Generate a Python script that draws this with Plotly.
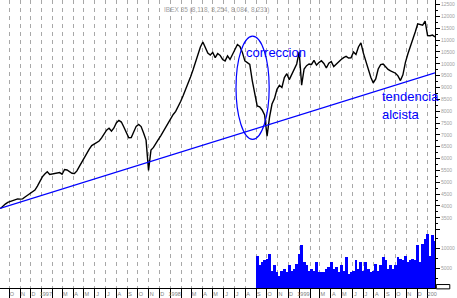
import pandas as pd
import plotly.graph_objects as go

# ---- data ----
title_text = "IBEX 35 (8,118, 8,254, 8,084, 8,231)"

price_start = "1996-09-06"   # weekly closes
price = [
    3890, 4000, 4080, 4150, 4190, 4210, 4250, 4300, 4290, 4300,
    4380, 4460, 4530, 4610, 4670, 4840, 5070, 5230, 5350, 5440,
    5330, 5350, 5390, 5420, 5410, 5340, 5540, 5520, 5430, 5380,
    5370, 5480, 5670, 5860, 6070, 6240, 6400, 6550, 6610, 6660,
    6740, 6870, 7040, 7200, 7280, 7160, 7290, 7510, 7610, 7540,
    7330, 7130, 6880, 6890, 7150, 7360, 7440, 7350, 7080, 6780,
    5500, 6360, 6470, 6660, 6810, 6970, 7160, 7320, 7530, 7670,
    7860, 7990, 8180, 8410, 8650, 8890, 9160, 9440, 9740, 10070,
    10420, 10710, 10920, 10710, 10450, 10370, 10480, 10260, 10430, 10350,
    10180, 10120, 10330, 10180, 10390, 10600, 10810, 10730, 10480, 10120,
    10030, 9970, 9290, 8720, 8220, 8180, 8050, 7840, 6950, 7750,
    8300, 8530, 8920, 9090, 9000, 9420, 9580, 9330, 9540, 9780,
    9990, 10500, 9100, 9780, 9920, 9990, 9970, 10140, 9940, 10050,
    10130, 10010, 9820, 10020, 10090, 9880, 9990, 10090, 10180, 10260,
    10310, 10240, 10250, 10500, 10390, 10710, 10880, 10450, 10100, 9740,
    9430, 9190, 9360, 9780, 9960, 9990, 9870, 9760, 9700, 9650,
    9600, 9490, 9290, 9530, 10050, 10410, 10710, 10950, 11340, 11680,
    11670, 11630, 11800, 11190, 11180, 11210, 11130,
]

vol_start = "1998-09-04"     # weekly volume
volume = [
    8000, 5700, 6500, 7000, 7400, 8600, 4400, 5700, 4000, 3100,
    4400, 4800, 4000, 5700, 4400, 4800, 6100, 8650, 10800, 6500,
    5700, 4400, 4800, 4400, 6500, 4000, 4000, 4000, 4800, 5300,
    6500, 4800, 5300, 4000, 5700, 4400, 7800, 3600, 4000, 4400,
    7000, 4800, 6500, 4400, 6500, 4800, 4000, 4400, 6100, 4400,
    5700, 7800, 7000, 4800, 5700, 4800, 5700, 7800, 7400, 7000,
    8200, 6500, 7000, 7400, 7000, 10800, 6500, 11200, 12500, 13700,
    8200, 13300, 12000,
]

trend_dates = ["1996-09-05", "2000-01-21"]
trend_values = [3900, 9620]

ellipse_dates = ["1998-07-06", "1998-10-08"]
ellipse_values = [6810, 11170]

month_labels = ["S", "O", "N", "D",
                "1997", "", "M", "A", "M", "J", "J", "A", "S", "O", "N", "D",
                "1998", "", "M", "A", "M", "J", "J", "A", "S", "O", "N", "D",
                "1999", "", "M", "A", "M", "J", "J", "A", "S", "O", "N", "D",
                "200"]

price_ticks = list(range(3000, 12501, 500))
price_ticktext = ["" if v == 3000 else str(v) for v in price_ticks]
vol_ticks = [5000, 10000]

# ---- build ----
price_dates = pd.date_range(price_start, periods=len(price), freq="7D")
vol_dates = pd.date_range(vol_start, periods=len(volume), freq="7D")
month_starts = pd.date_range("1996-09-01", periods=len(month_labels), freq="MS")
label_dates = []
for d, t in zip(month_starts, month_labels):
    off = 12 if (t.isdigit()) else 8
    if d == month_starts[0]:
        off = 9
    label_dates.append(d + pd.Timedelta(days=off))

BLUE = "#0000ff"
GRAY = "#a0a0a0"
FONT = "Liberation Sans, Arial, sans-serif"

fig = go.Figure()
fig.add_trace(go.Bar(x=vol_dates, y=volume, yaxis="y2", xaxis="x",
                     width=8.2 * 86400000,
                     marker=dict(color=BLUE, line=dict(width=0))))
fig.add_trace(go.Scatter(x=price_dates, y=price, mode="lines",
                         line=dict(color="black", width=1.4)))
fig.add_trace(go.Scatter(x=trend_dates, y=trend_values, mode="lines",
                         line=dict(color=BLUE, width=1.3)))

fig.add_shape(type="circle", xref="x", yref="y",
              x0=ellipse_dates[0], x1=ellipse_dates[1],
              y0=ellipse_values[0], y1=ellipse_values[1],
              line=dict(color=BLUE, width=1.2))
fig.add_shape(type="rect", xref="paper", yref="paper",
              x0=1.003, x1=1.034, y0=-0.003, y1=0.012,
              line=dict(color="black", width=1), fillcolor="white")

fig.add_annotation(text=title_text, xref="paper", yref="paper",
                   x=0.497, y=0.986, showarrow=False,
                   font=dict(size=6.5, color=GRAY, family=FONT))
fig.add_annotation(text="correccion", xref="x", yref="y",
                   x="1998-07-28", y=10475, xanchor="left", yanchor="middle",
                   showarrow=False, font=dict(size=13, color=BLUE, family=FONT))
fig.add_annotation(text="tendencia", xref="x", yref="y",
                   x="1999-08-17", y=8620, xanchor="left", yanchor="middle",
                   showarrow=False, font=dict(size=13, color=BLUE, family=FONT))
fig.add_annotation(text="alcista", xref="x", yref="y",
                   x="1999-08-17", y=7880, xanchor="left", yanchor="middle",
                   showarrow=False, font=dict(size=13, color=BLUE, family=FONT))

fig.update_layout(
    width=457, height=298,
    margin=dict(l=0, r=22, t=0, b=10, pad=0),
    paper_bgcolor="white", plot_bgcolor="white",
    showlegend=False, bargap=0,
    font=dict(family=FONT),
    xaxis=dict(type="date", range=["1996-09-05", "2000-01-21"], anchor="y2",
               showline=True, linecolor="black", linewidth=1, mirror=False,
               tickmode="array", tickvals=label_dates, ticktext=month_labels,
               ticks="", ticklen=1, showgrid=False, zeroline=False,
               tickfont=dict(size=5.5, color="#808080"),
               minor=dict(dtick="M1", tick0="1996-09-01", ticks="outside",
                          ticklen=9, tickcolor="black", tickwidth=1,
                          showgrid=True, gridcolor="#a8a8a8",
                          griddash="4px,4px", gridwidth=1)),
    yaxis=dict(domain=[0.2014, 1], range=[2986, 12690], side="right",
               anchor="x", showline=True, linecolor="black", linewidth=1,
               tickmode="array", tickvals=price_ticks, ticktext=price_ticktext,
               ticks="outside", ticklen=4, tickcolor="black",
               showgrid=False, zeroline=False,
               tickfont=dict(size=5, color=GRAY),
               minor=dict(dtick=250, ticks="outside", ticklen=2,
                          tickcolor="black", showgrid=False)),
    yaxis2=dict(domain=[0, 0.2014], range=[0, 14680], side="right",
                anchor="x", showline=True, linecolor="black", linewidth=1,
                tickmode="array", tickvals=vol_ticks,
                ticktext=[str(v) for v in vol_ticks],
                ticks="outside", ticklen=4, tickcolor="black",
                showgrid=False, zeroline=False,
                tickfont=dict(size=5, color=GRAY),
                minor=dict(dtick=2500, ticks="outside", ticklen=2,
                           tickcolor="black", showgrid=False)),
)

fig.write_html("out.html")
